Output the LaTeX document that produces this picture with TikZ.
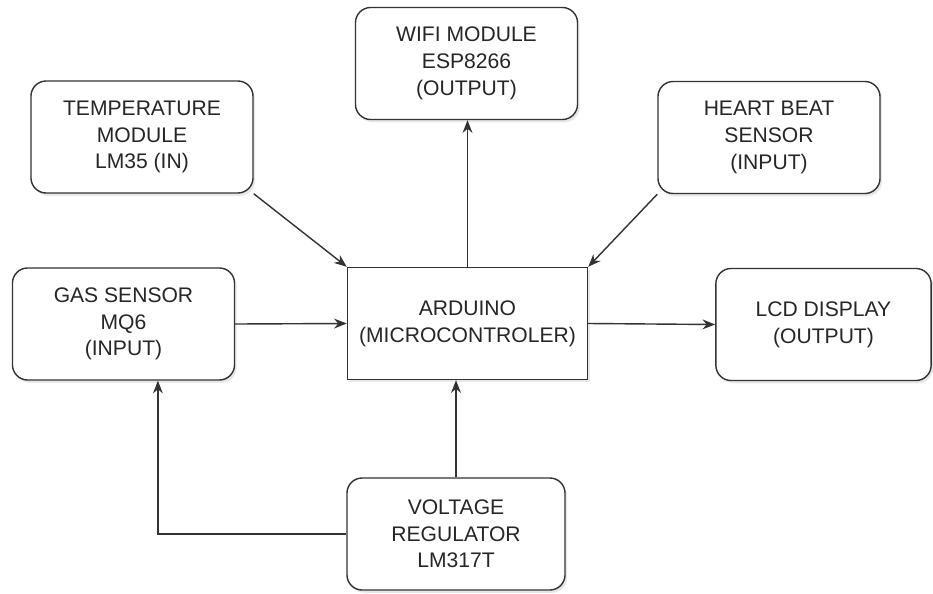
\documentclass[tikz,border=0pt]{standalone}
\usepackage{fontspec}
\setmainfont{Liberation Sans}
\usepackage{tikz}
\usetikzlibrary{arrows.meta,shadows}
\definecolor{blockline}{HTML}{333333}
\definecolor{blocktext}{HTML}{262626}

\begin{document}
\begin{tikzpicture}[
    x=0.025cm, y=-0.025cm,
    label/.style={
        font=\fontsize{15}{19}\selectfont,
        text=blocktext,
        align=center
    },
    block/.style={
        label,
        draw=blockline,
        line width=1pt,
        fill=white,
        rounded corners=0.38cm,
        drop shadow={opacity=0.18, shadow xshift=1.5pt, shadow yshift=-2pt},
        minimum width=5.55cm,
        minimum height=2.8cm,
        inner sep=2pt
    },
    ctrl/.style={
        block,
        rounded corners=0pt,
        minimum width=6.0cm
    },
    link/.style={
        draw=blockline,
        line width=1pt,
        -{Stealth[length=9pt,width=7pt]}
    }
]

\useasboundingbox (0,0) rectangle (933,593);

% ============================================================
% Top row: sensors and wifi module
% ============================================================

\node[block] (temp) at (142,137)
    {TEMPERATURE\\MODULE\\LM35 (IN)};

\node[block] (wifi) at (466.5,63.5)
    {WIFI MODULE\\ESP8266\\(OUTPUT)};

\node[block] (heart) at (769,137.5)
    {HEART BEAT\\SENSOR\\(INPUT)};

% ============================================================
% Middle row: gas sensor, controller, display
% ============================================================

\node[block] (gas) at (123.5,324)
    {GAS SENSOR\\MQ6\\(INPUT)};

\node[ctrl] (ard) at (467.5,323.5)
    {ARDUINO\\(MICROCONTROLER)};

\node[block, minimum width=5.38cm] (lcd) at (823.5,324.5)
    {LCD DISPLAY\\(OUTPUT)};

% ============================================================
% Bottom row: power supply
% ============================================================

\node[block, minimum width=5.45cm] (volt) at (456,534)
    {VOLTAGE\\REGULATOR\\LM317T};

% ============================================================
% Connectors
% ============================================================

\draw[link] (temp.south east) -- (ard.north west);
\draw[link] (heart.south west) -- (ard.north east);
\draw[link] (ard.north) -- (ard.north |- wifi.south);
\draw[link] (gas.east) -- (ard.west);
\draw[link] (ard.east) -- (lcd.west);
\draw[link] (volt.north) -- (volt.north |- ard.south);
\draw[link] (volt.west) -| ([xshift=0.86cm]gas.south);

\end{tikzpicture}
\end{document}
